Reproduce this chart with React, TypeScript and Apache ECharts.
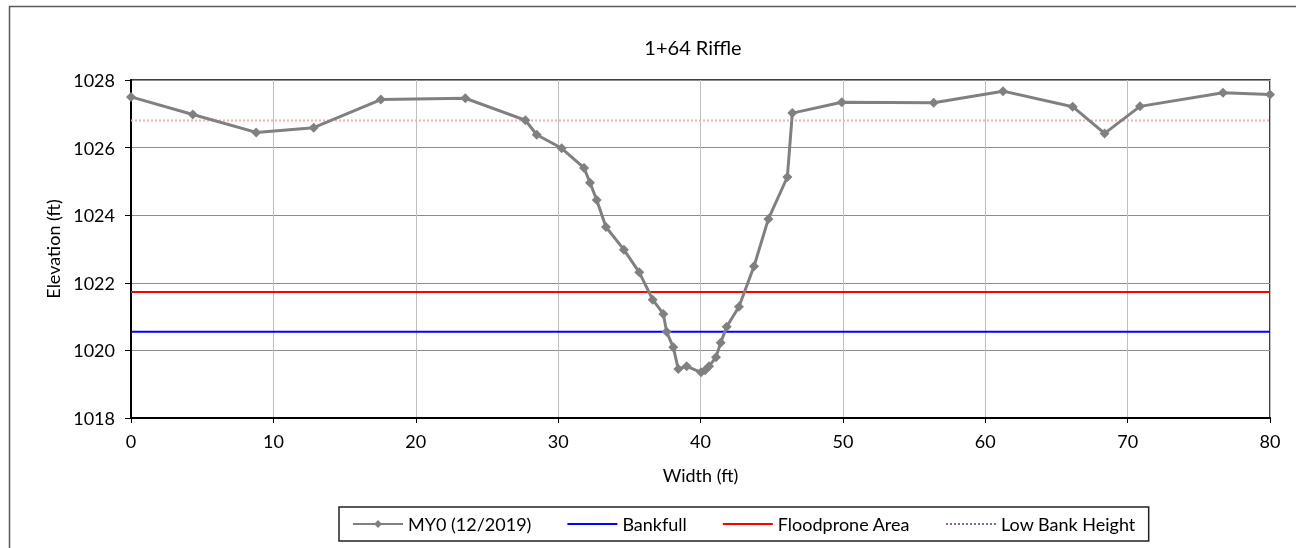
import React, { useEffect, useRef } from "react";
import * as echarts from "echarts";

const widthFt = [0, 4.34, 8.79, 12.83, 17.55, 23.48, 27.7, 28.5, 30.25, 31.82, 32.24, 32.71, 33.36, 34.62, 35.7, 36.64, 37.39, 37.62, 38.09, 38.44, 39.03, 40.04, 40.32, 40.6, 41.09, 41.42, 41.84, 42.7, 43.76, 44.77, 46.1, 46.45, 49.92, 56.38, 61.25, 66.14, 68.38, 70.87, 76.7, 80];
const elevFt = [1027.5, 1026.98, 1026.45, 1026.59, 1027.42, 1027.46, 1026.81, 1026.38, 1025.98, 1025.4, 1024.96, 1024.45, 1023.65, 1022.98, 1022.31, 1021.5, 1021.08, 1020.55, 1020.09, 1019.45, 1019.53, 1019.35, 1019.41, 1019.53, 1019.8, 1020.23, 1020.7, 1021.29, 1022.49, 1023.89, 1025.13, 1027.02, 1027.34, 1027.33, 1027.67, 1027.21, 1026.42, 1027.22, 1027.62, 1027.57];
const lineExtent = [0, 80];
const bankfullElev = 1020.55;
const floodproneElev = 1021.73;
const lowBankElev = 1026.8;
const xTicks = { min: 0, max: 80, interval: 10 };
const yTicks = { min: 1018, max: 1028, interval: 2 };

const FONT = "Lato";
const FS = 18;

export default function App() {
  const ref = useRef<HTMLDivElement>(null);
  useEffect(() => {
    if (!ref.current) return;
    const chart = echarts.init(ref.current, null, { renderer: "svg" });
    const hline = (v: number) => lineExtent.map((x) => [x, v]);
    const hidden = { opacity: 0 };
    chart.setOption({
      animation: false,
      textStyle: { fontFamily: FONT },
      title: {
        text: "1+64 Riffle",
        left: 688,
        textAlign: "center",
        top: 32,
        textStyle: { fontFamily: FONT, fontSize: 20, fontWeight: "normal", color: "#000" },
      },
      graphic: [
        {
          type: "rect",
          shape: { x: 9.5, y: 6.5, width: 1400, height: 700 },
          style: { fill: "none", stroke: "#595959", lineWidth: 1.5 },
          silent: true,
          z: -1,
        },
      ],
      grid: {
        left: 131,
        right: 26,
        top: 80,
        bottom: 130,
        show: true,
        borderColor: "#000",
        borderWidth: 1.5,
        backgroundColor: "transparent",
      },
      legend: {
        left: 339,
        top: 507,
        padding: [8, 13, 8, 13],
        itemGap: 35,
        itemWidth: 50,
        itemHeight: 10,
        borderColor: "#222",
        borderWidth: 1.5,
        textStyle: { fontFamily: FONT, fontSize: FS, color: "#000" },
        data: [
          { name: "MY0 (12/2019)" },
          { name: "Bankfull", itemStyle: hidden },
          { name: "Floodprone Area", itemStyle: hidden },
          { name: "Low Bank Height", itemStyle: hidden, lineStyle: { color: "#8064A2", type: "dotted", width: 2 } },
        ],
      },
      xAxis: {
        type: "value",
        min: xTicks.min,
        max: xTicks.max,
        interval: xTicks.interval,
        name: "Width (ft)",
        nameLocation: "middle",
        nameGap: 48,
        nameTextStyle: { fontFamily: FONT, fontSize: FS, color: "#000" },
        axisLine: { show: true, lineStyle: { color: "#000", width: 2 } },
        axisTick: { show: true, length: 5, lineStyle: { color: "#000" } },
        axisLabel: { fontFamily: FONT, fontSize: FS, color: "#000", margin: 14 },
        splitLine: { show: true, lineStyle: { color: "#BFBFBF", width: 1 } },
      },
      yAxis: {
        type: "value",
        min: yTicks.min,
        max: yTicks.max,
        interval: yTicks.interval,
        name: "Elevation (ft)",
        nameLocation: "middle",
        nameGap: 60,
        nameTextStyle: { fontFamily: FONT, fontSize: FS, color: "#000" },
        axisLine: { show: true, lineStyle: { color: "#000", width: 2 } },
        axisTick: { show: true, length: 6, lineStyle: { color: "#000" } },
        axisLabel: { fontFamily: FONT, fontSize: FS, color: "#000", margin: 16, formatter: (v: number) => String(v) },
        splitLine: { show: true, lineStyle: { color: "#8C8C8C", width: 1 } },
      },
      series: [
        {
          name: "MY0 (12/2019)",
          type: "line",
          data: widthFt.map((x, i) => [x, elevFt[i]]),
          symbol: "diamond",
          symbolSize: 10,
          itemStyle: { color: "#808080" },
          lineStyle: { color: "#808080", width: 3 },
          z: 5,
        },
        {
          name: "Bankfull",
          type: "line",
          data: hline(bankfullElev),
          symbol: "none",
          lineStyle: { color: "#0000FF", width: 2 },
          itemStyle: { color: "#0000FF" },
        },
        {
          name: "Floodprone Area",
          type: "line",
          data: hline(floodproneElev),
          symbol: "none",
          lineStyle: { color: "#FF0000", width: 2 },
          itemStyle: { color: "#FF0000" },
        },
        {
          name: "Low Bank Height",
          type: "line",
          data: hline(lowBankElev),
          symbol: "none",
          lineStyle: { color: "#F2B0B0", width: 2, type: "dotted" },
          itemStyle: { color: "#F2B0B0" },
        },
      ],
    });
    return () => chart.dispose();
  }, []);
  return <div ref={ref} style={{ position: "fixed", left: 0, top: 0, width: 1296, height: 548 }} />;
}
